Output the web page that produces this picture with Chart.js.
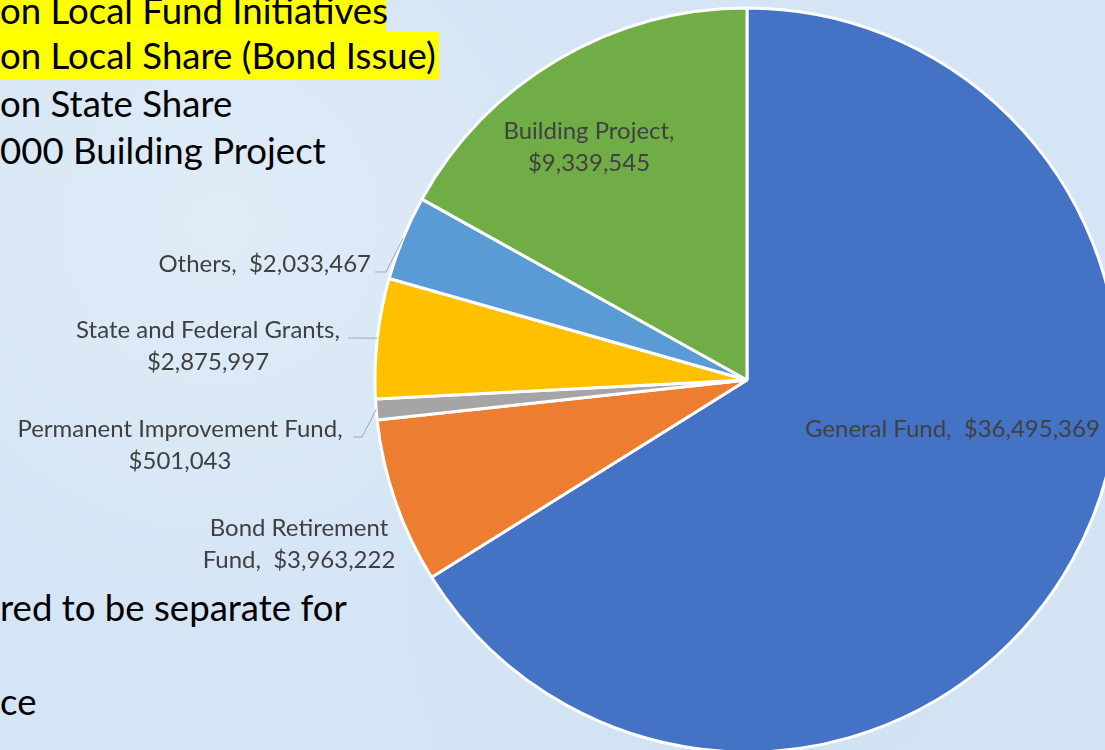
<!DOCTYPE html>
<html>
<head>
<meta charset="utf-8">
<title>Funds</title>
<script src="https://cdn.jsdelivr.net/npm/chart.js@4/dist/chart.umd.min.js"></script>
<style>
  html, body { margin: 0; padding: 0; width: 1105px; height: 750px; overflow: hidden; }
  body {
    position: relative;
    background-color: #d5e5f5;
    background-image:
      radial-gradient(circle at 20% 30%, rgba(255,255,255,0.25), rgba(255,255,255,0) 40%),
      radial-gradient(circle at 70% 80%, rgba(190,210,235,0.25), rgba(190,210,235,0) 45%);
    font-family: Lato, sans-serif;
  }
  .hl { position: absolute; left: 0; background: #ffff00; }
  .slide { position: absolute; left: 0; color: #000; white-space: nowrap; line-height: normal; font-family: Lato, sans-serif; }
  #wrap { position: absolute; left: 0; top: 0; width: 1494px; height: 760px; }
</style>
</head>
<body>
<div class="hl" style="top:0;width:386px;height:31px"></div>
<div class="hl" style="top:32px;width:439px;height:48px"></div>
<div id="slideText"></div>
<div id="wrap"><canvas id="pie"></canvas></div>
<script>
// chart data
const categories = ['General Fund', 'Bond Retirement Fund', 'Permanent Improvement Fund',
  'State and Federal Grants', 'Others', 'Building Project'];
const amounts = [36495369, 3963222, 501043, 2875997, 2033467, 9339545];
const sliceColors = ['#4472c4', '#ed7d31', '#a5a5a5', '#ffc000', '#5b9bd5', '#70ad47'];

// slide text behind the chart (baseline y)
const slideLines = ['on Local Fund Initiatives', 'on Local Share (Bond Issue)', 'on State Share',
  '000 Building Project', 'red to be separate for', 'ce'];
const slideBaselines = [24, 69, 117, 164, 621, 715];

// where each slice label goes (brk: 'name' = value on its own line, number = words on first line)
const labelLayout = [
  { align: 'left', x: 805, y: 437, brk: 0 },
  { align: 'center', x: 299, y: 536, brk: 2 },
  { align: 'center', x: 180, y: 437, brk: 'name', leader: [[353, 437], [362, 437]] },
  { align: 'center', x: 208, y: 338, brk: 'name', leader: [[348, 338]] },
  { align: 'right', x: 371, y: 272, brk: 0, leader: [[375, 272], [386, 272]] },
  { align: 'center', x: 589, y: 139, brk: 'name' }
];
const lineGap = 32;

const measureCtx = document.createElement('canvas').getContext('2d');
function fitSize(text, width, family) {
  measureCtx.font = '100px ' + family;
  return 100 * width / measureCtx.measureText(text).width;
}

// slide text
const slideSize = fitSize('on Local Share (Bond Issue)', 436, 'Lato');
measureCtx.font = slideSize + 'px Lato';
const slideAscent = measureCtx.measureText('Hg').fontBoundingBoxAscent;
const holder = document.getElementById('slideText');
slideLines.forEach((t, i) => {
  const d = document.createElement('div');
  d.className = 'slide';
  d.style.fontSize = slideSize + 'px';
  d.style.top = (slideBaselines[i] - slideAscent) + 'px';
  d.textContent = t;
  holder.appendChild(d);
});

const money = v => '$' + v.toLocaleString('en-US');
const labelSize = fitSize('General Fund,  ' + money(amounts[0]), 295, 'Lato');

function labelLines(i) {
  const brk = labelLayout[i].brk;
  if (brk === 'name') return [categories[i] + ',', money(amounts[i])];
  if (!brk) return [categories[i] + ',  ' + money(amounts[i])];
  const words = categories[i].split(' ');
  return [words.slice(0, brk).join(' '), words.slice(brk).join(' ') + ',  ' + money(amounts[i])];
}

const sliceLabels = {
  id: 'sliceLabels',
  afterDatasetsDraw(chart) {
    const ctx = chart.ctx;
    const arcs = chart.getDatasetMeta(0).data;
    ctx.save();
    ctx.font = labelSize + 'px Lato';
    ctx.fillStyle = '#404040';
    ctx.textBaseline = 'alphabetic';
    labelLayout.forEach((lay, i) => {
      ctx.textAlign = lay.align;
      labelLines(i).forEach((t, k) => ctx.fillText(t, lay.x, lay.y + k * lineGap));
      if (lay.leader) {
        const a = arcs[i];
        const mid = (a.startAngle + a.endAngle) / 2;
        const ex = a.x + Math.cos(mid) * a.outerRadius;
        const ey = a.y + Math.sin(mid) * a.outerRadius;
        ctx.beginPath();
        ctx.strokeStyle = '#a6a6a6';
        ctx.lineWidth = 1;
        ctx.moveTo(lay.leader[0][0], lay.leader[0][1]);
        lay.leader.slice(1).forEach(p => ctx.lineTo(p[0], p[1]));
        ctx.lineTo(ex, ey);
        ctx.stroke();
      }
    });
    ctx.restore();
  }
};

new Chart(document.getElementById('pie'), {
  type: 'pie',
  data: {
    labels: categories,
    datasets: [{
      data: amounts,
      backgroundColor: sliceColors,
      borderColor: '#ffffff',
      borderWidth: 3
    }]
  },
  options: {
    responsive: true,
    maintainAspectRatio: false,
    animation: false,
    radius: 372,
    layout: { padding: 0 },
    plugins: {
      legend: { display: false },
      tooltip: { enabled: false }
    }
  },
  plugins: [sliceLabels]
});
</script>
</body>
</html>
